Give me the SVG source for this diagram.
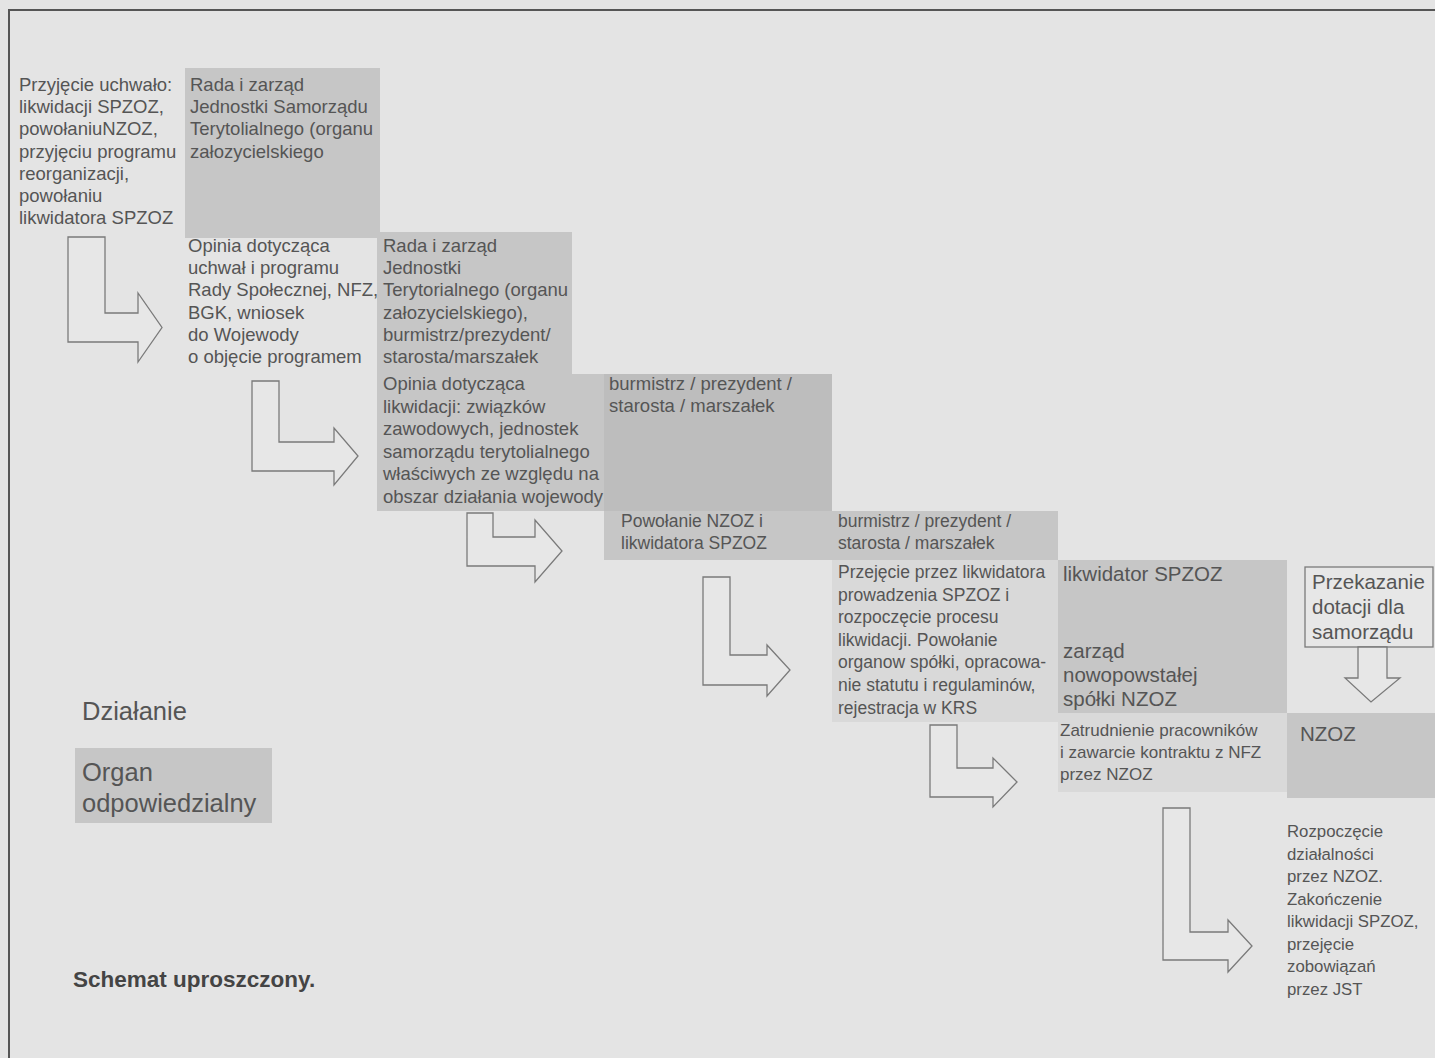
<svg xmlns="http://www.w3.org/2000/svg" width="1435" height="1058" viewBox="0 0 1435 1058">
<style>
.t{font-family:"Liberation Sans",Arial,sans-serif;font-size:18.5px;fill:#555}
.s{font-size:17.5px}
.m{font-size:20.5px}
.l{font-size:25.5px}
.b{font-family:"Liberation Sans",Arial,sans-serif;font-size:22.5px;font-weight:bold;fill:#444}
.g{fill:#c6c6c6}
.gd{fill:#bdbdbd}
.gl{fill:#d9d9d9}
.ar{fill:#e7e7e7;stroke:#7a7a7a;stroke-width:1.3}
</style>
<rect width="1435" height="1058" fill="#e4e4e4"/>
<path d="M9,1058 V10 H1435" fill="none" stroke="#555" stroke-width="2"/>

<g id="n1"><text class="t" x="19" y="91"><tspan x="19">Przyjęcie uchwało:</tspan><tspan x="19" dy="22.2">likwidacji SPZOZ,</tspan><tspan x="19" dy="22.2">powołaniuNZOZ,</tspan><tspan x="19" dy="22.2">przyjęciu programu</tspan><tspan x="19" dy="22.2">reorganizacji,</tspan><tspan x="19" dy="22.2">powołaniu</tspan><tspan x="19" dy="22.2">likwidatora SPZOZ</tspan></text></g>

<g id="n2"><rect class="g" x="185" y="68" width="195" height="170"/><text class="t" x="190" y="91"><tspan x="190">Rada i zarząd</tspan><tspan x="190" dy="22.2">Jednostki Samorządu</tspan><tspan x="190" dy="22.2">Terytolialnego (organu</tspan><tspan x="190" dy="22.2">załozycielskiego</tspan></text></g>

<g id="n3"><text class="t" x="188" y="252"><tspan x="188">Opinia dotycząca</tspan><tspan x="188" dy="22.2">uchwał i programu</tspan><tspan x="188" dy="22.2">Rady Społecznej, NFZ,</tspan><tspan x="188" dy="22.2">BGK, wniosek</tspan><tspan x="188" dy="22.2">do Wojewody</tspan><tspan x="188" dy="22.2">o objęcie programem</tspan></text></g>

<g id="n4"><rect class="g" x="377" y="232" width="195" height="142"/><text class="t" x="383" y="252"><tspan x="383">Rada i zarząd</tspan><tspan x="383" dy="22.2">Jednostki</tspan><tspan x="383" dy="22.2">Terytorialnego (organu</tspan><tspan x="383" dy="22.2">załozycielskiego),</tspan><tspan x="383" dy="22.2">burmistrz/prezydent/</tspan><tspan x="383" dy="22.2">starosta/marszałek</tspan></text></g>

<g id="n5"><rect class="g" x="377" y="374" width="227" height="137"/><text class="t" x="383" y="390"><tspan x="383">Opinia dotycząca</tspan><tspan x="383" dy="22.6">likwidacji: związków</tspan><tspan x="383" dy="22.6">zawodowych, jednostek</tspan><tspan x="383" dy="22.6">samorządu terytolialnego</tspan><tspan x="383" dy="22.6">właściwych ze względu na</tspan><tspan x="383" dy="22.6">obszar działania wojewody</tspan></text></g>

<g id="n6"><rect class="gd" x="604" y="374" width="228" height="137"/><text class="t" x="609" y="390"><tspan x="609">burmistrz / prezydent /</tspan><tspan x="609" dy="22">starosta / marszałek</tspan></text></g>

<g id="n7"><rect class="g" x="604" y="511" width="228" height="49"/><text class="t s" x="621" y="527"><tspan x="621">Powołanie NZOZ i</tspan><tspan x="621" dy="22">likwidatora SPZOZ</tspan></text></g>

<g id="n8"><rect class="g" x="832" y="511" width="226" height="49"/><text class="t s" x="838" y="527"><tspan x="838">burmistrz / prezydent /</tspan><tspan x="838" dy="22">starosta / marszałek</tspan></text></g>

<g id="n9"><rect class="gl" x="832" y="560" width="226" height="162"/><text class="t s" x="838" y="578"><tspan x="838">Przejęcie przez likwidatora</tspan><tspan x="838" dy="22.6">prowadzenia SPZOZ i</tspan><tspan x="838" dy="22.6">rozpoczęcie procesu</tspan><tspan x="838" dy="22.6">likwidacji. Powołanie</tspan><tspan x="838" dy="22.6">organow spółki, opracowa-</tspan><tspan x="838" dy="22.6">nie statutu i regulaminów,</tspan><tspan x="838" dy="22.6">rejestracja w KRS</tspan></text></g>

<g id="n10"><rect class="g" x="1058" y="560" width="229" height="153"/><text class="t m" x="1063" y="581">likwidator SPZOZ</text><text class="t m" x="1063" y="658"><tspan x="1063">zarząd</tspan><tspan x="1063" dy="24">nowopowstałej</tspan><tspan x="1063" dy="24">spółki NZOZ</tspan></text></g>

<g id="n11"><rect class="gl" x="1058" y="713" width="229" height="79"/><text class="t" style="font-size:17px" x="1060" y="736"><tspan x="1060">Zatrudnienie pracowników</tspan><tspan x="1060" dy="22">i zawarcie kontraktu z NFZ</tspan><tspan x="1060" dy="22">przez NZOZ</tspan></text></g>

<g id="n12"><rect class="g" x="1287" y="713" width="148" height="85"/><text class="t m" x="1300" y="741">NZOZ</text></g>

<g id="n13"><rect x="1305" y="567" width="128" height="80" fill="#e7e7e7" stroke="#7a7a7a" stroke-width="1.3"/><text class="t m" x="1312" y="589"><tspan x="1312">Przekazanie</tspan><tspan x="1312" dy="25">dotacji dla</tspan><tspan x="1312" dy="25">samorządu</tspan></text></g>

<g id="n14"><text class="t" style="font-size:16.8px" x="1287" y="837"><tspan x="1287">Rozpoczęcie</tspan><tspan x="1287" dy="22.5">działalności</tspan><tspan x="1287" dy="22.5">przez NZOZ.</tspan><tspan x="1287" dy="22.5">Zakończenie</tspan><tspan x="1287" dy="22.5">likwidacji SPZOZ,</tspan><tspan x="1287" dy="22.5">przejęcie</tspan><tspan x="1287" dy="22.5">zobowiązań</tspan><tspan x="1287" dy="22.5">przez JST</tspan></text></g>

<g id="n15"><text class="t l" x="82" y="720">Działanie</text></g>

<g id="n16"><rect class="g" x="75" y="748" width="197" height="75"/><text class="t l" x="82" y="781"><tspan x="82">Organ</tspan><tspan x="82" dy="31">odpowiedzialny</tspan></text></g>

<g id="n17"><text class="b" x="73" y="987">Schemat uproszczony.</text></g>

<g id="connectors">
<polygon class="ar" points="68,237 105,237 105,313 138,313 138,293 162,327.5 138,362 138,342 68,342"/>
<polygon class="ar" points="252,381 279,381 279,442 334,442 334,428 358,456 334,485 334,471 252,471"/>
<polygon class="ar" points="467,513 493,513 493,537 535,537 535,520 562,551 535,582 535,566 467,566"/>
<polygon class="ar" points="703,577 730,577 730,655 767,655 767,645 790,670 767,696 767,685 703,685"/>
<polygon class="ar" points="930,725 957,725 957,768 993,768 993,758 1017,782 993,807 993,797 930,797"/>
<polygon class="ar" points="1358,647 1358,678 1345,678 1371,702 1400,678 1387,678 1387,647"/>
<polygon class="ar" points="1163,808 1190,808 1190,932 1228,932 1228,920 1252,946 1228,972 1228,960 1163,960"/>
</g>
</svg>
